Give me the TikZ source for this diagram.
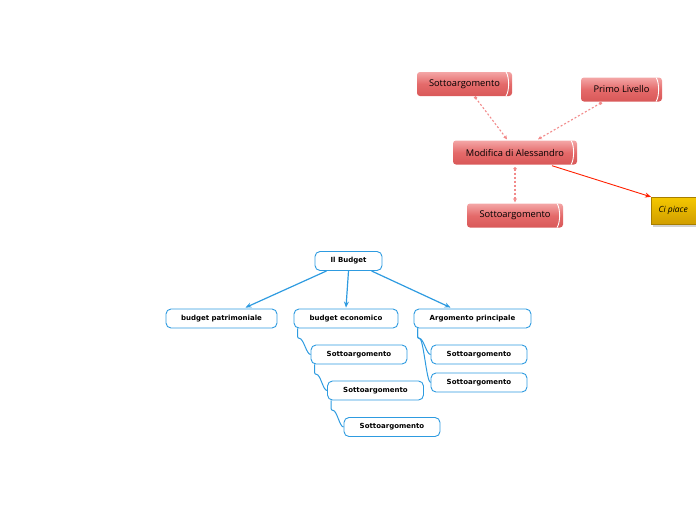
\documentclass[tikz,border=0pt]{standalone}
\usepackage{fontspec}
\setmainfont{DejaVu Sans}
\newfontfamily\topfont{Open Sans}
\usetikzlibrary{arrows.meta,calc,shadows}
\definecolor{treeblue}{HTML}{2E9BE0}
\definecolor{redtop}{HTML}{F4A6A6}
\definecolor{redmid}{HTML}{E46A6A}
\definecolor{redbot}{HTML}{D95858}
\definecolor{linkpink}{HTML}{F28A8A}
\definecolor{goldtop}{HTML}{F5C800}
\definecolor{goldbot}{HTML}{D19E00}
\tikzset{
  topic/.style={draw=treeblue, fill=white, rounded corners=5pt, line width=0.9pt,
    font=\bfseries\fontsize{7}{8}\selectfont, minimum height=19pt, inner sep=0pt},
  drum/.style={rounded corners=3pt, top color=redtop, bottom color=redbot, middle color=redmid,
    font=\topfont\fontsize{9.3}{10}\selectfont, text=black, minimum height=24pt, inner sep=0pt,
    path picture={\draw[white, line width=0.9pt]
      ($(path picture bounding box.north east)+(-6,0)$) .. controls +(3.5,5) and +(3.5,-5) ..
      ($(path picture bounding box.south east)+(-6,0)$);}},
  ghost/.style={linkpink, dash pattern=on 2pt off 2pt, line width=1.1pt, -{Stealth[length=4pt,width=4pt]}},
  dot/.style={fill=linkpink},
  branch/.style={treeblue, line width=1.2pt, -{Stealth[length=6pt,width=5pt]}},
  stem/.style={treeblue, line width=1pt, rounded corners=2pt}
}
\begin{document}
\begin{tikzpicture}[x=1pt, y=-1pt]
\useasboundingbox (0,0) rectangle (696,520);

% upper group
\node[drum, minimum width=95pt] (subA) at (464.5,84) {Sottoargomento\hspace{6pt}};
\node[drum, minimum width=81pt] (first) at (621.5,89.5) {Primo Livello\hspace{6pt}};
\node[drum, minimum width=124pt] (edit) at (515,152.5) {Modifica di Alessandro\hspace{6pt}};
\node[drum, minimum width=96pt] (subB) at (515,215.5) {Sottoargomento\hspace{6pt}};
\node[top color=goldtop, bottom color=goldbot, draw=goldbot!80!black, line width=0.3pt,
  drop shadow={shadow xshift=2pt, shadow yshift=-3pt, fill=black!35},
  minimum width=52pt, minimum height=27pt, inner sep=0pt, anchor=west,
  font=\topfont\itshape\fontsize{8.5}{9}\selectfont] (like) at (651,210.5) {\hspace{-8pt}Ci piace};

\coordinate (a1) at ($(subA.south)+(11,1.5)$);
\coordinate (b1) at ($(first.south)+(-21,1.5)$);
\coordinate (c1) at ($(edit.south)+(0,4)$);
\fill[dot] (a1) circle (1.8pt) (b1) circle (1.8pt) (c1) circle (1.8pt);
\draw[ghost] (a1) -- ($(edit.north)+(-8,-1)$);
\draw[ghost] (b1) -- ($(edit.north)+(23,-1)$);
\draw[ghost] (c1) -- ($(subB.north)+(0,-1)$);
\draw[red!75!orange, line width=0.9pt, -{Stealth[length=6pt,width=5pt]}] ($(edit.south)+(37,1)$) -- (like.north west);

% lower tree
\node[topic, minimum width=67pt] (root) at (348.5,261) {Il Budget};
\node[topic, minimum width=111pt] (asset) at (221.5,318.5) {budget patrimoniale};
\node[topic, minimum width=104pt] (econ) at (346,318.5) {budget economico};
\node[topic, minimum width=117pt] (main) at (472.5,318.5) {Argomento principale};
\node[topic, minimum width=96pt] (e1) at (359,354.5) {Sottoargomento};
\node[topic, minimum width=96pt] (e2) at (375.5,390.5) {Sottoargomento};
\node[topic, minimum width=96pt] (e3) at (392,427) {Sottoargomento};
\node[topic, minimum width=96pt] (m1) at (479,354.5) {Sottoargomento};
\node[topic, minimum width=96pt] (m2) at (479,382.5) {Sottoargomento};

\draw[branch] ($(root.south)+(-22,0)$) -- ($(asset.north)+(24,-1)$);
\draw[branch] ($(root.south)+(0,0)$) -- ($(econ.north)+(0,-1)$);
\draw[branch] ($(root.south)+(23,0)$) -- ($(main.north)+(-22,-1)$);

\foreach \up/\down in {econ/e1, e1/e2, e2/e3}
  \draw[stem] ($(\up.south west)+(4,0)$) -- ++(0,10) .. controls +(6,0) and +(-4,0) .. (\down.west);
\foreach \down in {m1, m2}
  \draw[stem] ($(main.south west)+(4,0)$) -- ++(0,10) .. controls +(6,0) and +(-4,0) .. (\down.west);
\end{tikzpicture}
\end{document}
